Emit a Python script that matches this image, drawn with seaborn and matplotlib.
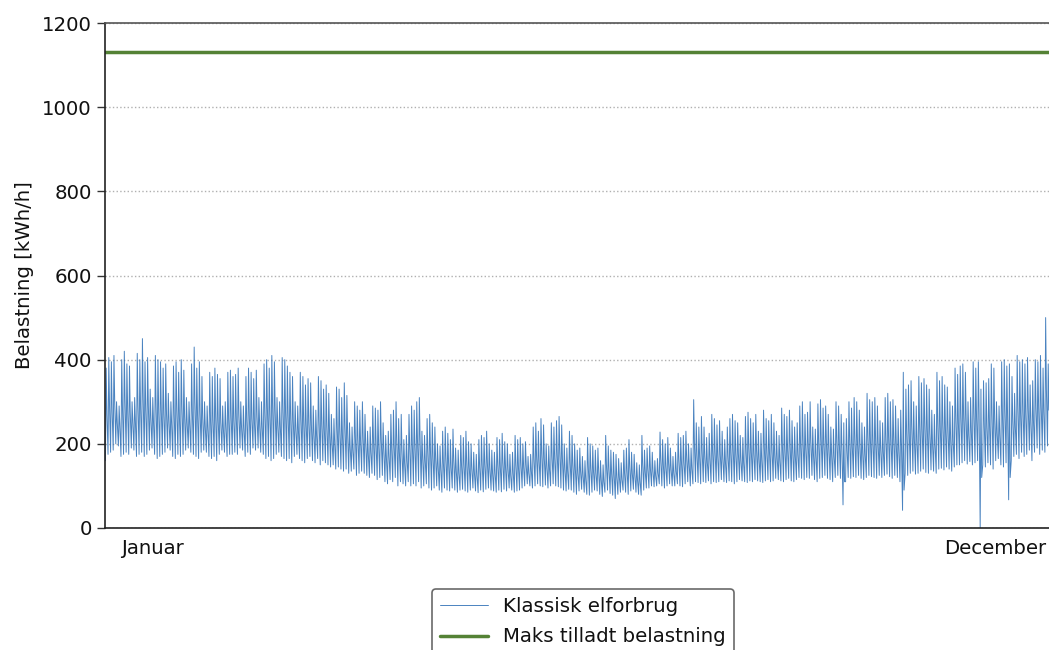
import numpy as np
import pandas as pd
import matplotlib
matplotlib.use("Agg")
import matplotlib.pyplot as plt
import seaborn as sns

# ---- data (daily peak / evening level / night trough, kWh/h) ----
daily_high = [
    380, 405, 395, 410, 300, 290, 400, 420, 390, 385,
    300, 310, 415, 400, 450, 395, 405, 330, 310, 410,
    400, 395, 380, 390, 320, 300, 385, 395, 370, 400,
    375, 310, 300, 390, 430, 380, 395, 360, 300, 290,
    370, 360, 380, 365, 355, 290, 300, 370, 375, 360,
    365, 380, 300, 290, 360, 380, 370, 355, 375, 310,
    300, 390, 400, 380, 410, 395, 310, 300, 405, 400,
    385, 370, 360, 300, 290, 370, 360, 340, 355, 345,
    290, 280, 360, 350, 330, 340, 320, 270, 260, 335,
    330, 310, 345, 315, 250, 240, 300, 290, 280, 300,
    270, 230, 240, 290, 285, 280, 300, 250, 220, 230,
    270, 280, 300, 260, 270, 210, 220, 270, 290, 280,
    300, 310, 230, 220, 260, 270, 250, 240, 200, 195,
    230, 240, 225, 210, 235, 190, 185, 220, 215, 230,
    205, 200, 180, 175, 210, 220, 215, 230, 200, 185,
    180, 215, 210, 225, 205, 200, 175, 180, 220, 210,
    215, 200, 205, 170, 175, 240, 250, 230, 260, 245,
    200, 195, 250, 240, 255, 265, 245, 200, 190, 230,
    220, 200, 185, 190, 170, 160, 215, 200, 195, 185,
    190, 160, 150, 220, 195, 185, 180, 175, 165, 155,
    185, 190, 210, 180, 175, 155, 150, 220, 185, 190,
    195, 180, 160, 165, 228, 210, 200, 215, 190, 170,
    180, 225, 215, 220, 230, 200, 190, 305, 250, 240,
    265, 240, 215, 225, 270, 260, 245, 255, 230, 210,
    240, 260, 270, 255, 250, 220, 215, 265, 275, 260,
    250, 270, 230, 225, 280, 260, 255, 270, 250, 230,
    220, 285, 270, 265, 280, 255, 240, 250, 290, 300,
    270, 275, 300, 240, 235, 295, 305, 285, 290, 270,
    240, 235, 300, 290, 270, 250, 260, 300, 285, 310,
    300, 280, 250, 240, 320, 305, 300, 310, 290, 255,
    250, 310, 320, 300, 305, 290, 260, 280, 370, 330,
    340, 350, 300, 290, 360, 345, 355, 340, 330, 280,
    270, 370, 350, 360, 340, 335, 300, 290, 380, 365,
    385, 390, 370, 300, 310, 395, 380, 395, 330, 350,
    345, 355, 390, 380, 300, 290, 395, 400, 385, 390,
    360, 320, 410, 395, 400, 390, 405, 340, 350, 400,
    395, 410, 380, 500, 390,
]
daily_mid = [
    270, 290, 280, 300, 250, 240, 285, 300, 280, 275,
    250, 255, 290, 285, 310, 280, 290, 260, 250, 285,
    275, 280, 270, 275, 255, 245, 270, 280, 265, 285,
    265, 250, 245, 275, 300, 270, 275, 260, 240, 235,
    260, 255, 265, 255, 250, 235, 240, 260, 265, 255,
    260, 270, 240, 235, 255, 270, 260, 250, 265, 245,
    240, 275, 285, 270, 290, 280, 245, 240, 285, 280,
    270, 260, 255, 235, 230, 260, 255, 245, 250, 245,
    225, 220, 250, 245, 235, 240, 230, 205, 200, 235,
    230, 220, 240, 225, 190, 185, 215, 210, 205, 215,
    200, 175, 180, 205, 200, 195, 210, 185, 165, 170,
    190, 195, 205, 180, 185, 155, 160, 190, 200, 195,
    205, 210, 165, 160, 180, 185, 170, 165, 145, 140,
    155, 165, 155, 145, 160, 135, 130, 150, 150, 155,
    145, 140, 130, 125, 145, 150, 150, 155, 140, 130,
    130, 150, 145, 155, 145, 140, 125, 130, 150, 145,
    150, 145, 150, 130, 135, 165, 170, 160, 175, 165,
    145, 140, 170, 165, 175, 180, 165, 140, 135, 155,
    150, 140, 130, 135, 125, 115, 145, 140, 135, 130,
    135, 115, 110, 150, 140, 130, 125, 120, 120, 115,
    130, 135, 145, 130, 125, 115, 110, 150, 135, 140,
    140, 135, 125, 130, 160, 150, 145, 155, 140, 130,
    135, 160, 155, 155, 165, 150, 140, 200, 175, 170,
    180, 170, 155, 165, 185, 180, 170, 175, 165, 155,
    170, 180, 185, 175, 175, 160, 155, 180, 190, 180,
    175, 185, 165, 160, 195, 180, 180, 185, 175, 165,
    160, 195, 185, 185, 195, 180, 170, 175, 200, 205,
    190, 195, 205, 175, 170, 200, 210, 200, 205, 190,
    175, 170, 205, 200, 190, 110, 185, 205, 195, 210,
    205, 195, 180, 175, 215, 210, 205, 210, 200, 185,
    180, 210, 220, 205, 210, 200, 185, 195, 90, 225,
    230, 240, 210, 205, 245, 235, 245, 235, 225, 200,
    195, 250, 240, 245, 235, 235, 210, 205, 260, 250,
    265, 270, 260, 220, 230, 275, 265, 275, 120, 245,
    240, 250, 270, 260, 225, 220, 275, 280, 265, 120,
    255, 240, 285, 275, 280, 270, 285, 250, 255, 285,
    285, 290, 275, 330, 280,
]
daily_low = [
    160, 175, 180, 185, 200, 195, 170, 175, 180, 175,
    190, 185, 170, 175, 180, 170, 175, 185, 190, 175,
    165, 170, 175, 180, 190, 185, 170, 165, 175, 170,
    175, 185, 190, 180, 175, 170, 165, 180, 185, 180,
    170, 165, 170, 160, 175, 185, 180, 170, 175, 175,
    180, 175, 190, 185, 170, 180, 175, 190, 185, 190,
    180, 175, 165, 170, 160, 165, 175, 180, 170, 165,
    160, 165, 155, 170, 175, 165, 160, 155, 165, 170,
    160, 155, 165, 150, 160, 155, 150, 145, 150, 140,
    145, 140, 135, 140, 130, 135, 140, 125, 130, 135,
    130, 125, 120, 130, 125, 115, 120, 125, 110, 105,
    115, 110, 120, 100, 110, 105, 100, 110, 100, 105,
    100, 110, 95, 100, 105, 95, 90, 95, 100, 90,
    85, 95, 90, 88, 95, 90, 85, 90, 92, 88,
    85, 90, 95, 88, 84, 90, 86, 92, 95, 90,
    88, 85, 90, 86, 92, 88, 95, 90, 85, 88,
    90, 95, 100, 105, 100, 95, 100, 105, 100, 98,
    102, 95, 100, 105, 100, 98, 95, 90, 88, 92,
    90, 85, 80, 88, 92, 85, 80, 78, 85, 90,
    88, 80, 75, 85, 90, 82, 78, 70, 80, 85,
    90, 85, 80, 88, 92, 85, 80, 78, 90, 95,
    95, 100, 98, 100, 105, 100, 95, 100, 105, 100,
    100, 105, 100, 98, 105, 110, 100, 105, 110, 108,
    105, 110, 108, 112, 105, 110, 108, 110, 115, 110,
    108, 112, 110, 105, 110, 115, 112, 110, 108, 112,
    110, 115, 112, 110, 108, 112, 115, 110, 112, 118,
    115, 112, 110, 115, 118, 112, 110, 115, 120, 118,
    115, 120, 118, 125, 115, 110, 118, 120, 125, 118,
    115, 110, 120, 125, 118, 55, 110, 120, 118, 122,
    120, 125, 118, 115, 120, 125, 122, 120, 118, 125,
    120, 125, 128, 122, 118, 125, 120, 110, 42, 130,
    125, 130, 135, 128, 130, 135, 140, 132, 130, 138,
    135, 130, 140, 142, 138, 145, 140, 135, 145, 150,
    150, 155, 160, 152, 158, 150, 155, 160, 0, 150,
    145, 155, 150, 140, 160, 165, 150, 145, 155, 67,
    160, 170, 175, 165, 180, 170, 175, 185, 160, 180,
    190, 175, 185, 180, 195,
]
max_allowed = 1130
month_labels = ["Januar", "December"]
series_names = ["Klassisk elforbrug", "Maks tilladt belastning"]
y_label = "Belastning [kWh/h]"

# ---- build hourly-position table (night trough, daytime peak, evening level) ----
rows = []
for d, (lo, hi, mid) in enumerate(zip(daily_low, daily_high, daily_mid)):
    rows.append((d * 24 + 4, lo))
    rows.append((d * 24 + 11, hi))
    rows.append((d * 24 + 18, mid))
df = pd.DataFrame(rows, columns=["hour", "load"])
hours_total = len(daily_high) * 24
df_max = pd.DataFrame({"hour": [0, hours_total], "load": [max_allowed, max_allowed]})

sns.set_style("white")
plt.rcParams["font.family"] = ["DejaVu Sans"]
plt.rcParams["text.color"] = "#111111"
plt.rcParams["axes.labelcolor"] = "#111111"
plt.rcParams["xtick.color"] = "#111111"
plt.rcParams["ytick.color"] = "#111111"

fig = plt.figure(figsize=(10.49, 6.5), dpi=100)
ax = fig.add_axes([0.1001, 0.1877, 0.9005, 0.7769])

sns.lineplot(data=df, x="hour", y="load", ax=ax, color="#2a6db5", lw=0.7,
             alpha=0.85, sort=False, estimator=None, label=series_names[0])
sns.lineplot(data=df_max, x="hour", y="load", ax=ax, color="#548235", lw=2.5,
             sort=False, estimator=None, label=series_names[1])

ax.set_xlim(0, hours_total)
ax.set_ylim(0, 1200)
ax.set_yticks([0, 200, 400, 600, 800, 1000, 1200])
ax.set_xticks([436, 8259])
ax.set_xticklabels(month_labels)
ax.set_xlabel("")
ax.set_ylabel(y_label, fontsize=14.2, labelpad=6)
ax.tick_params(axis="y", labelsize=14.2, length=6, width=1, color="#333333", left=True)
ax.tick_params(axis="x", labelsize=14.2, length=0, pad=8)
ax.yaxis.grid(True, linestyle=":", color="#b0b0b0", lw=1)
ax.xaxis.grid(False)
for s in ["left", "bottom"]:
    ax.spines[s].set_color("#222222")
    ax.spines[s].set_linewidth(1.2)
ax.spines["top"].set_color("#555555")
ax.spines["top"].set_linewidth(1.2)
ax.spines["right"].set_visible(False)

ax.get_legend().remove()
handles, labels = ax.get_legend_handles_labels()
leg = fig.legend(handles, labels, loc="upper center", bbox_to_anchor=(0.556, 0.1095),
                 fontsize=14.2, frameon=True, fancybox=True, handlelength=2.4,
                 labelspacing=0.6)
leg.get_frame().set_edgecolor("#444444")
leg.get_frame().set_linewidth(1.2)

fig.savefig("out.png", dpi=100)
